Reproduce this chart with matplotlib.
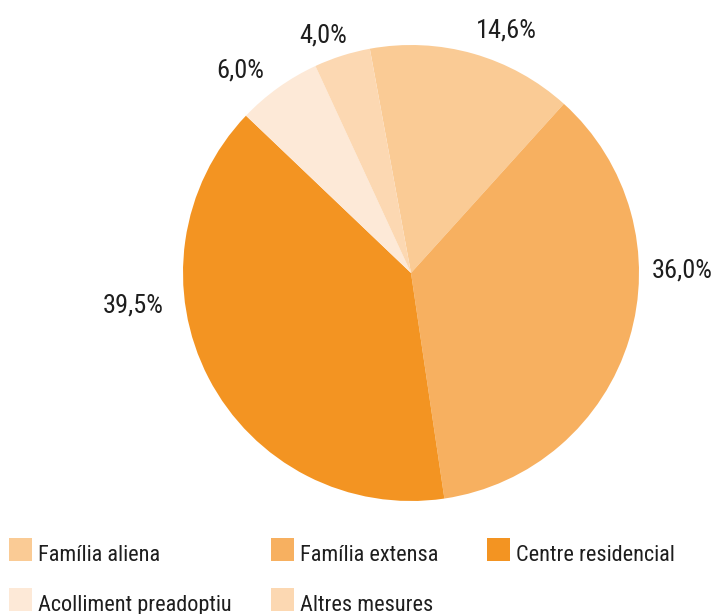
import matplotlib
matplotlib.use("Agg")
import matplotlib.pyplot as plt
from matplotlib.patches import Rectangle

# data (clockwise from the top)
categories = ["Família aliena", "Família extensa", "Centre residencial",
              "Acolliment preadoptiu", "Altres mesures"]
shares = [14.6, 36.0, 39.5, 6.0, 4.0]
colors = ["#FACB95", "#F7B060", "#F39422", "#FDE9D7", "#FCD8B2"]

# label anchors (centre x, baseline y) in pie-radius units, Excel-style placement
label_xy = [(0.419, 1.031), (1.191, -0.018), (-1.217, -0.175),
            (-0.75, 0.857), (-0.386, 1.013)]

plt.rcParams["font.family"] = ["Roboto Condensed", "Archivo Narrow", "Liberation Sans", "DejaVu Sans"]
text_color = "#1e1e1e"

W, H = 717, 614
fig = plt.figure(figsize=(W / 100, H / 100), dpi=100)

# pie centre and radius in pixels
cx, cy, r = 411, 273, 228
ax = fig.add_axes([(cx - r) / W, (H - cy - r) / H, 2 * r / W, 2 * r / H])
ax.pie(shares, colors=colors, startangle=100.4, counterclock=False,
       radius=1, wedgeprops=dict(linewidth=0))
ax.set_xlim(-1, 1)
ax.set_ylim(-1, 1)
ax.set_aspect("equal")
ax.axis("off")

for v, (x, y) in zip(shares, label_xy):
    ax.text(x, y, f"{v:.1f}%".replace(".", ","), ha="center", va="baseline",
            fontsize=19, color=text_color, clip_on=False)

# manual legend, 3 columns
box_x = [9, 271, 487]
text_x = [38, 300, 516]
box_top = [538, 588]
for i, (name, c) in enumerate(zip(categories, colors)):
    col, row = i % 3, i // 3
    y0 = box_top[row]
    fig.patches.append(Rectangle((box_x[col] / W, 1 - (y0 + 23) / H), 23 / W, 23 / H,
                                 transform=fig.transFigure, facecolor=c,
                                 edgecolor="none"))
    fig.text(text_x[col] / W, 1 - (y0 + 23) / H, name, ha="left", va="baseline",
             fontsize=16, color=text_color)

fig.savefig("out.png", dpi=100)
